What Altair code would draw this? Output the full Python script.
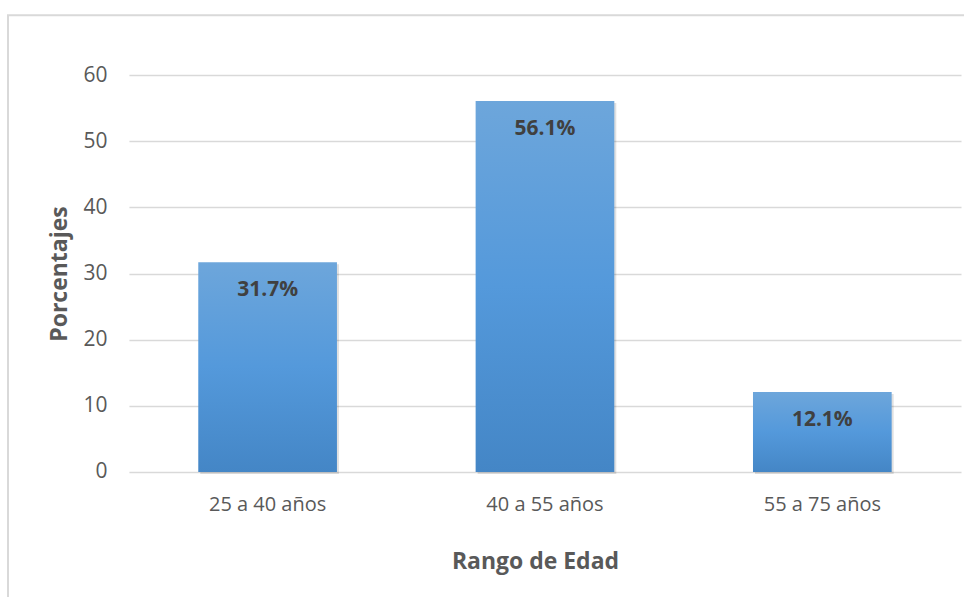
import altair as alt
import pandas as pd

categories = ["25 a 40 años", "40 a 55 años", "55 a 75 años"]
values = [31.7, 56.1, 12.1]
y_ticks = [0, 10, 20, 30, 40, 50, 60]

df = pd.DataFrame({"rango": categories, "pct": values})

FONT = "Open Sans"
W, H = 832.5, 397

x_enc = alt.X(
    "rango:N",
    sort=categories,
    scale=alt.Scale(paddingInner=0.5, paddingOuter=0.25),
    axis=alt.Axis(
        title="Rango de Edad",
        labelAngle=0,
        labelFont=FONT,
        labelFontSize=20,
        labelColor="#595959",
        labelPadding=33,
        labelBaseline="middle",
        ticks=False,
        domain=False,
        titleFont=FONT,
        titleFontSize=23,
        titleFontWeight="bold",
        titleColor="#595959",
        titleX=W / 2 - 10,
        titleY=90,
        titleBaseline="middle",
        titleAlign="center",
    ),
)

y_enc = alt.Y(
    "pct:Q",
    scale=alt.Scale(domain=[0, 60], nice=False),
    axis=alt.Axis(
        title="Porcentajes",
        values=y_ticks,
        labelFont=FONT,
        labelFontSize=21,
        labelColor="#595959",
        labelPadding=22,
        ticks=False,
        domain=False,
        grid=True,
        gridColor="#d9d9d9",
        gridWidth=1.5,
        titleFont=FONT,
        titleFontSize=23,
        titleFontWeight="bold",
        titleColor="#595959",
        titleAngle=270,
        titleX=-69,
        titleY=H / 2,
        titleBaseline="middle",
        titleAlign="center",
    ),
)

base = alt.Chart(df)

shadow = base.mark_bar(color="#000000", opacity=0.12, xOffset=2, yOffset=2).encode(
    x=x_enc, y=y_enc
)

bars = base.mark_bar(
    color=alt.Gradient(
        gradient="linear",
        stops=[
            alt.GradientStop(color="#6DA6DB", offset=0),
            alt.GradientStop(color="#5499DB", offset=0.5),
            alt.GradientStop(color="#4486C6", offset=1),
        ],
        x1=0, x2=0, y1=0, y2=1,
    )
).encode(x=x_enc, y=y_enc)

labels = base.transform_calculate(
    label="format(datum.pct, '.1f') + '%'"
).mark_text(
    font=FONT, fontSize=21, fontWeight="bold", color="#404040",
    baseline="middle", dy=28,
).encode(x=x_enc, y=y_enc, text="label:N")

border_df = pd.DataFrame({"k": [0]})
border = alt.Chart(border_df).mark_rect(
    fill=None, stroke="#d9d9d9", strokeWidth=2
).encode(
    x=alt.value(8 - 129), x2=alt.value(1200),
    y=alt.value(15 - 75), y2=alt.value(800),
)

chart = alt.layer(border, shadow, bars, labels).properties(
    width=W, height=H,
    autosize=alt.AutoSizeParams(type="none"),
    padding={"left": 129, "top": 75, "right": 3, "bottom": 125},
    background="white",
).configure_view(stroke=None)

chart.save("out.html", embed_options={"renderer": "svg", "actions": False})
